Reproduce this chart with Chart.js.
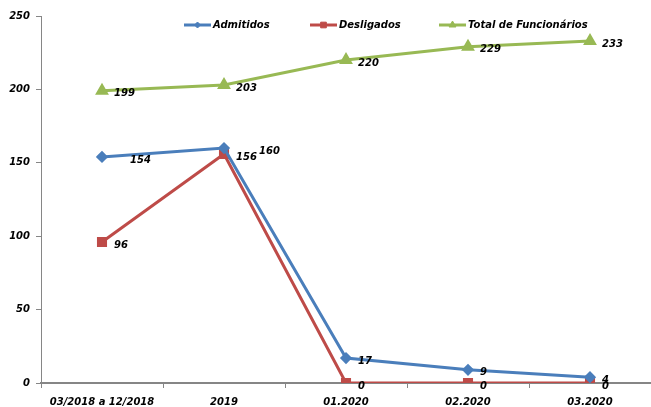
<!DOCTYPE html>
<html>
<head>
<meta charset="utf-8">
<script src="https://cdn.jsdelivr.net/npm/chart.js@4/dist/chart.umd.min.js"></script>
<style>
  body { margin: 0; background: #fff; }
  #wrap { width: 651px; height: 407px; }
</style>
</head>
<body>
<div id="wrap"><canvas id="chart" width="651" height="407"></canvas></div>
<script>
const categories = ['03/2018 a 12/2018', '2019', '01.2020', '02.2020', '03.2020'];
const admitidos = [154, 160, 17, 9, 4];
const desligados = [96, 156, 0, 0, 0];
const totalFuncionarios = [199, 203, 220, 229, 233];
const yTicks = [0, 50, 100, 150, 200, 250];

const FONT = '"DejaVu Sans", sans-serif';

// the plot runs to the right edge of the canvas
const stretchX = {
  id: 'stretchX',
  afterLayout(chart) {
    const x = chart.scales.x;
    const w = chart.width;
    x.right = w;
    x.width = w - x.left;
    chart.chartArea.right = w;
    chart.chartArea.width = w - chart.chartArea.left;
    x.configure();
  }
};

// value labels drawn right of each point
const valueLabels = {
  id: 'valueLabels',
  afterDatasetsDraw(chart) {
    const ctx = chart.ctx;
    ctx.save();
    ctx.font = 'italic bold 10px ' + FONT;
    ctx.fillStyle = '#000';
    ctx.textBaseline = 'middle';
    ctx.textAlign = 'left';
    chart.data.datasets.forEach((ds, i) => {
      const meta = chart.getDatasetMeta(i);
      const extra = ds.labelShift || [];
      meta.data.forEach((pt, j) => {
        const dx = 12 + (extra[j] || 0);
        ctx.fillText(String(ds.data[j]), pt.x + dx, pt.y + 3);
      });
    });
    ctx.restore();
  }
};

// legend drawn over the plot, line + marker + text
const lineLegend = {
  id: 'lineLegend',
  afterDraw(chart) {
    const ctx = chart.ctx;
    const starts = [184, 310, 439];
    const y = 25;
    ctx.save();
    chart.data.datasets.forEach((ds, i) => {
      const x = starts[i];
      ctx.strokeStyle = ds.borderColor;
      ctx.fillStyle = ds.backgroundColor;
      ctx.lineWidth = 3;
      ctx.beginPath();
      ctx.moveTo(x, y);
      ctx.lineTo(x + 27, y);
      ctx.stroke();
      ctx.lineWidth = 1;
      Chart.helpers.drawPoint(ctx, {
        pointStyle: ds.pointStyle,
        radius: ds.pointRadius - 1,
        rotation: 0,
        borderWidth: 1
      }, x + 13.5, y);
      ctx.fillStyle = '#000';
      ctx.font = 'italic bold 10px ' + FONT;
      ctx.textBaseline = 'middle';
      ctx.textAlign = 'left';
      ctx.fillText(ds.label, x + 29, y);
    });
    ctx.restore();
  }
};

const ctx = document.getElementById('chart').getContext('2d');
new Chart(ctx, {
  type: 'line',
  data: {
    labels: categories,
    datasets: [
      {
        label: 'Admitidos',
        data: admitidos,
        borderColor: '#4A7EBB',
        backgroundColor: '#4A7EBB',
        pointStyle: 'rectRot',
        pointRadius: 4,
        borderWidth: 3,
        labelShift: [16, 23]
      },
      {
        label: 'Desligados',
        data: desligados,
        borderColor: '#BE4B48',
        backgroundColor: '#BE4B48',
        pointStyle: 'rect',
        pointRadius: 5,
        borderWidth: 3
      },
      {
        label: 'Total de Funcionários',
        data: totalFuncionarios,
        borderColor: '#98B954',
        backgroundColor: '#98B954',
        pointStyle: 'triangle',
        pointRadius: 5,
        borderWidth: 3
      }
    ]
  },
  options: {
    responsive: false,
    animation: false,
    layout: { padding: { top: 16, right: 0, bottom: 0, left: 0 } },
    plugins: {
      legend: { display: false },
      tooltip: { enabled: false }
    },
    elements: { line: { tension: 0 }, point: { borderWidth: 1 } },
    scales: {
      x: {
        offset: true,
        grid: { offset: true, drawOnChartArea: false, tickLength: 5, color: '#868686', lineWidth: 1 },
        border: { color: '#868686', width: 2 },
        ticks: {
          color: '#000',
          padding: 8,
          maxRotation: 0,
          autoSkip: false,
          font: { family: FONT, size: 10, style: 'italic', weight: 'bold' }
        },
        afterFit(scale) { scale.height = 24; }
      },
      y: {
        min: 0,
        max: 250,
        afterBuildTicks(scale) { scale.ticks = yTicks.map(v => ({ value: v })); },
        grid: { drawOnChartArea: false, tickLength: 5, color: '#868686' },
        border: { color: '#868686', width: 1 },
        ticks: {
          color: '#000',
          padding: 6,
          font: { family: FONT, size: 10, style: 'italic', weight: 'bold' }
        },
        afterFit(scale) { scale.width = 41; }
      }
    }
  },
  plugins: [stretchX, valueLabels, lineLegend]
});
</script>
</body>
</html>
